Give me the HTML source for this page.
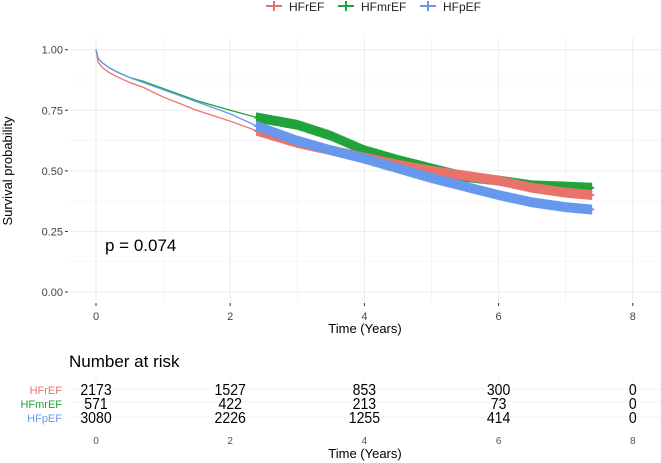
<!DOCTYPE html>
<html><head><meta charset="utf-8"><style>
body{margin:0;background:#fff;}
svg{display:block;font-family:"Liberation Sans",sans-serif;}
</style></head><body>
<svg id="c" width="661" height="463" viewBox="0 0 661 463">
<g id="grid"></g><g id="series"></g><g id="axes"></g>
</svg>
<script>
const timeTicks=[0,2,4,6,8];
const survTicks=[0,0.25,0.5,0.75,1.0];
const survTickLabels=["0.00","0.25","0.50","0.75","1.00"];
const groups=["HFrEF","HFmrEF","HFpEF"];
const times=[0,0.03,0.1,0.2,0.3,0.5,0.7,1,1.5,2,2.4,3,3.5,4,4.5,5,5.5,6,6.5,7,7.4];
const survHFrEF=[1,0.95,0.925,0.905,0.89,0.865,0.845,0.805,0.75,0.705,0.665,0.615,0.585,0.555,0.525,0.5,0.48,0.46,0.43,0.41,0.40];
const survHFmrEF=[1,0.965,0.945,0.925,0.91,0.885,0.87,0.84,0.79,0.75,0.72,0.69,0.645,0.585,0.545,0.51,0.475,0.46,0.44,0.435,0.43];
const survHFpEF=[1,0.965,0.945,0.925,0.91,0.885,0.865,0.835,0.785,0.735,0.685,0.625,0.585,0.55,0.51,0.47,0.435,0.4,0.37,0.35,0.34];
const riskHFrEF=[2173,1527,853,300,0];
const riskHFmrEF=[571,422,213,73,0];
const riskHFpEF=[3080,2226,1255,414,0];
const pValue="p = 0.074";
const colors=["#e8736b","#1fa33a","#6699ee"];
const NS="http://www.w3.org/2000/svg";
const X=t=>96+t*67.1;
const Y=s=>292-s*242.3;
const svg=document.getElementById('c');
function el(tag,attrs,parent,text){const e=document.createElementNS(NS,tag);for(const k in attrs)e.setAttribute(k,attrs[k]);if(text!==undefined)e.textContent=text;(parent||svg).appendChild(e);return e;}
const grid=document.getElementById('grid'),ser=document.getElementById('series'),ax=document.getElementById('axes');
for(let i=0;i<timeTicks.length;i++){
  const g=el('line',{x1:X(timeTicks[i]),x2:X(timeTicks[i]),y1:38,y2:302,stroke:'#ebebeb','stroke-width':1},grid);
  
  
  if(i<timeTicks.length-1){const m=(timeTicks[i]+timeTicks[i+1])/2;el('line',{x1:X(m),x2:X(m),y1:38,y2:302,stroke:'#f3f3f3','stroke-width':0.8},grid);}
  const l=el('text',{x:X(timeTicks[i]),y:320,'text-anchor':'middle','font-size':11,fill:'#444'},ax,String(timeTicks[i]));
  
  
  el('line',{x1:X(timeTicks[i]),x2:X(timeTicks[i]),y1:303,y2:306,stroke:'#333'},ax);
  el('line',{x1:X(timeTicks[i]),x2:X(timeTicks[i]),y1:378,y2:425,stroke:'#f0f0f0'},grid);
  const l2=el('text',{x:X(timeTicks[i]),y:444,'text-anchor':'middle','font-size':10,fill:'#555'},ax,String(timeTicks[i]));
  
  
}
for(let i=0;i<survTicks.length;i++){
  const g=el('line',{x1:70,x2:661,y1:Y(survTicks[i]),y2:Y(survTicks[i]),stroke:'#ebebeb'},grid);
  
  
  if(i<survTicks.length-1){const m=(survTicks[i]+survTicks[i+1])/2;el('line',{x1:70,x2:661,y1:Y(m),y2:Y(m),stroke:'#f3f3f3','stroke-width':0.8},grid);}
  el('line',{x1:65,x2:68,y1:Y(survTicks[i]),y2:Y(survTicks[i]),stroke:'#333'},ax);
  const l=el('text',{x:63,y:Y(survTicks[i])+4,'text-anchor':'end','font-size':11,fill:'#444'},ax,survTickLabels[i]);
  
  
}
[389,402,417].forEach(y=>el('line',{x1:70,x2:661,y1:y,y2:y,stroke:'#f0f0f0'},grid));
const survs=[survHFrEF,survHFmrEF,survHFpEF];
function sAt(s,t){for(let i=0;i<times.length-1;i++){if(t<=times[i+1]){const f=(t-times[i])/(times[i+1]-times[i]);return s[i]+f*(s[i+1]-s[i]);}}return s[s.length-1];}
const censorStart=2.4,censorEnd=7.4,censorStep=0.03;
[1,0,2].forEach(k=>{
  const s=survs[k];
  const g=el('g',{},ser);
  
  
  el('polyline',{points:times.map((t,i)=>X(t)+','+Y(s[i])).join(' '),fill:'none',stroke:colors[k],'stroke-width':1.3},g);
  let d='';
  for(let t=censorStart;t<=censorEnd+1e-9;t+=censorStep){const x=X(t),y=Y(sAt(s,t));d+=`M${x-3},${y}h6M${x},${y-5}v10`;}
  el('path',{d:d,stroke:colors[k],'stroke-width':2,fill:'none'},g);
});
const p=el('text',{x:105,y:251,'font-size':17,fill:'#000'},ax,pValue);


const yt=el('text',{x:12,y:171,'text-anchor':'middle','font-size':13,fill:'#000',transform:'rotate(-90 12 171)'},ax,'Survival probability');


const xt=el('text',{x:365,y:333,'text-anchor':'middle','font-size':13,fill:'#000'},ax,'Time (Years)');


const xt2=el('text',{x:365,y:458,'text-anchor':'middle','font-size':13,fill:'#000'},ax,'Time (Years)');


const rt=el('text',{x:69,y:367,'font-size':17,fill:'#000'},ax,'Number at risk');


const legX=[266,338,420];
groups.forEach((g,k)=>{
  const lg=el('g',{},ax);
  
  
  el('path',{d:`M${legX[k]},6h16M${legX[k]+8},1v10`,stroke:colors[k],'stroke-width':2},lg);
  el('text',{x:legX[k]+23,y:11,'font-size':12,fill:'#222'},lg,g);
});
const risks=[riskHFrEF,riskHFmrEF,riskHFpEF];
const rowY=[395,409,423];
risks.forEach((r,k)=>{
  const lab=el('text',{x:62,y:rowY[k]-1,'text-anchor':'end','font-size':11,fill:colors[k]},ax,groups[k]);
  
  
  r.forEach((v,i)=>{
    const t=el('text',{x:X(timeTicks[i]),y:rowY[k],'text-anchor':'middle','font-size':16,fill:'#000',transform:`translate(${X(timeTicks[i])},0) scale(0.88,1) translate(${-X(timeTicks[i])},0)`},ax,String(v));
    
    
  });
});
</script>
</body></html>
